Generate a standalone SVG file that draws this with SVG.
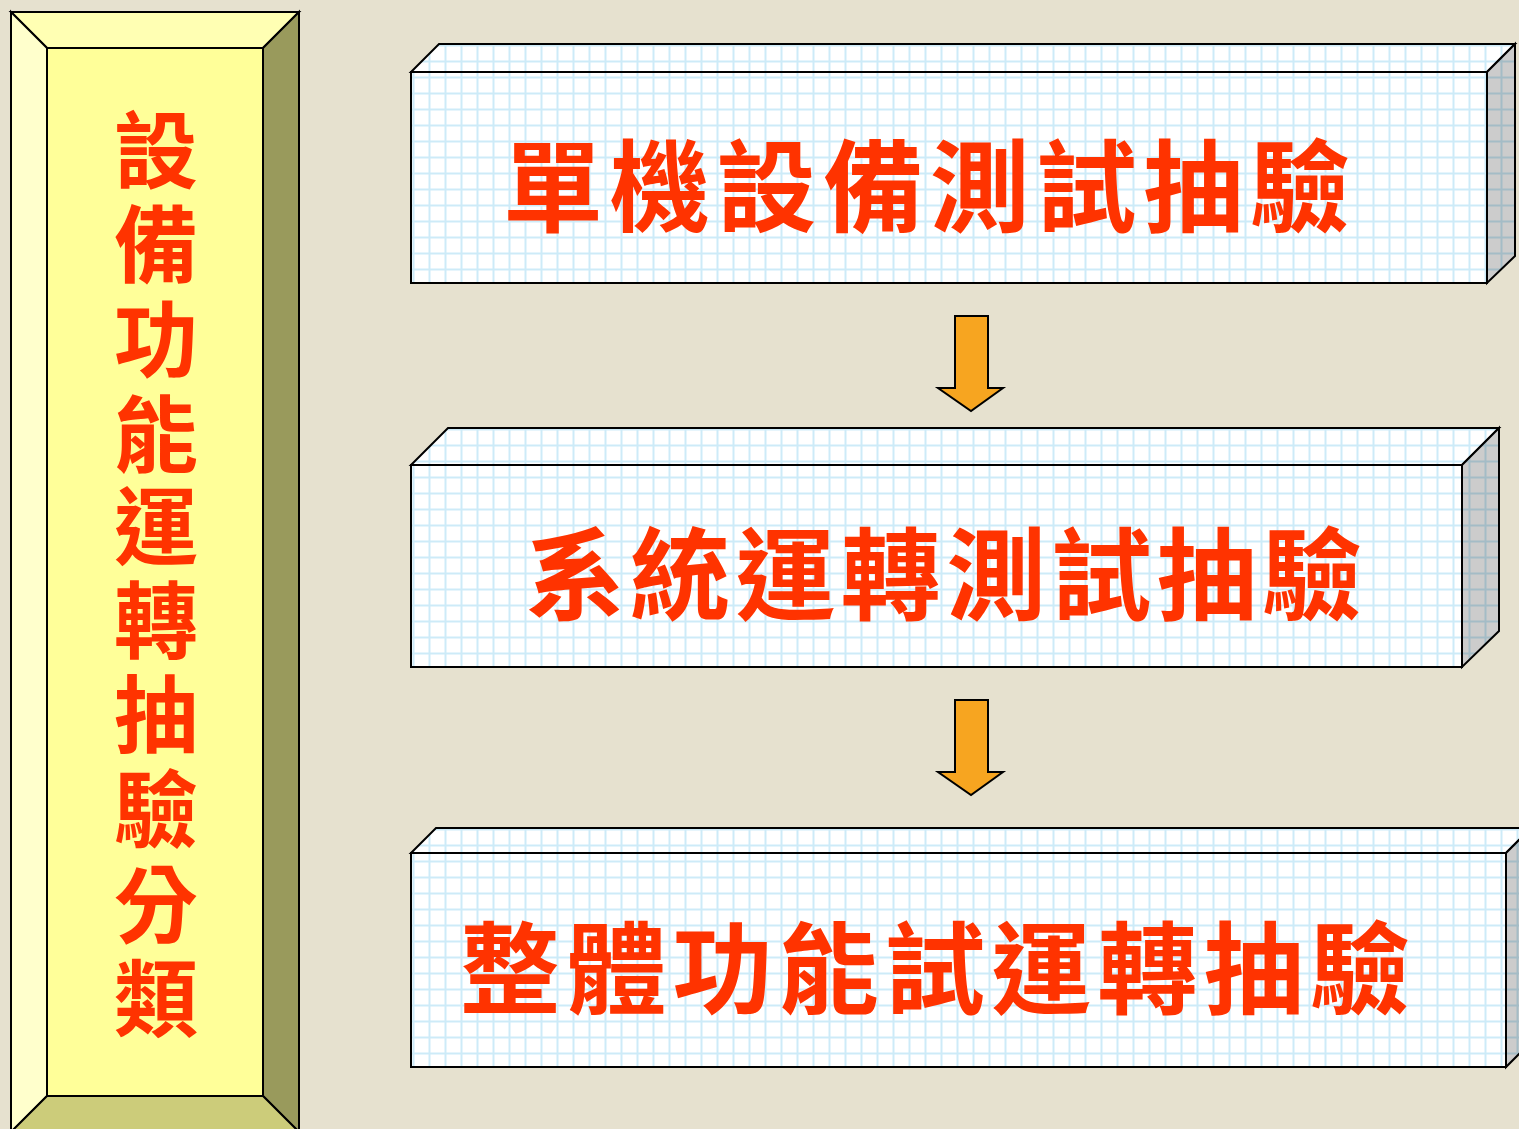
<svg xmlns="http://www.w3.org/2000/svg" width="1519" height="1129" viewBox="0 0 1519 1129">
<style>
.edge{stroke:#000;stroke-width:2;stroke-linejoin:miter}
.t{font-family:"Noto Sans CJK TC","Noto Sans CJK SC",sans-serif;font-weight:bold;fill:#FF3300}
.v{font-size:84px;text-anchor:middle}
.grid{fill:url(#grid)}
.shade{fill:#000;fill-opacity:0.2}
.arrow{fill:#F7A520;stroke:#000;stroke-width:2}
</style>
<defs>
<pattern id="grid" patternUnits="userSpaceOnUse" x="12.5" y="12.5" width="16" height="16">
<rect width="16" height="16" fill="#fff"/>
<rect x="0" y="0" width="2" height="16" fill="#CDEBF8"/>
<rect x="0" y="0" width="16" height="2" fill="#CDEBF8"/>
</pattern>
</defs>
<rect width="1519" height="1129" fill="#E6E1CF"/>

<g id="side-panel">
<polygon points="11,12 299,12 263,48 47,48" fill="#FFFFB3" class="edge"/>
<polygon points="11,12 47,48 47,1096 11,1132" fill="#FFFFCC" class="edge"/>
<polygon points="299,12 299,1132 263,1096 263,48" fill="#999A5C" class="edge"/>
<polygon points="47,1096 263,1096 299,1132 11,1132" fill="#CCCC7A" class="edge"/>
<rect x="47" y="48" width="216" height="1048" fill="#FFFF99" class="edge"/>
<text class="t v" x="156" y="182">設</text>
<text class="t v" x="156" y="276">備</text>
<text class="t v" x="156" y="371">功</text>
<text class="t v" x="156" y="466">能</text>
<text class="t v" x="156" y="558">運</text>
<text class="t v" x="156" y="652">轉</text>
<text class="t v" x="156" y="746">抽</text>
<text class="t v" x="156" y="841">驗</text>
<text class="t v" x="156" y="936">分</text>
<text class="t v" x="156" y="1030">類</text>
</g>

<g id="box1">
<polygon points="411,72 439,44 1515,44 1487,72" class="grid edge"/>
<polygon points="1487,72 1515,44 1515,256 1487,283" class="grid edge"/>
<polygon points="1487,72 1515,44 1515,256 1487,283" class="shade"/>
<rect x="411" y="72" width="1076" height="211" class="grid edge"/>
<text class="t" x="503" y="224" font-size="100" textLength="847" lengthAdjust="spacing">單機設備測試抽驗</text>
</g>

<g id="box2">
<polygon points="411,465 448,428 1499,428 1462,465" class="grid edge"/>
<polygon points="1462,465 1499,428 1499,631 1462,667" class="grid edge"/>
<polygon points="1462,465 1499,428 1499,631 1462,667" class="shade"/>
<rect x="411" y="465" width="1051" height="202" class="grid edge"/>
<text class="t" x="525" y="612" font-size="100" textLength="837" lengthAdjust="spacing">系統運轉測試抽驗</text>
</g>

<g id="box3">
<polygon points="411,853 436,828 1531,828 1506,853" class="grid edge"/>
<polygon points="1506,853 1531,828 1531,1042 1506,1067" class="grid edge"/>
<polygon points="1506,853 1531,828 1531,1042 1506,1067" class="shade"/>
<rect x="411" y="853" width="1095" height="214" class="grid edge"/>
<text class="t" x="460" y="1006" font-size="100" textLength="950" lengthAdjust="spacing">整體功能試運轉抽驗</text>
</g>

<g id="connectors">
<polygon class="arrow" points="955,316 988,316 988,388 1003,388 971,411 938,388 955,388"/>
<polygon class="arrow" points="955,700 988,700 988,772 1003,772 971,795 938,772 955,772"/>
</g>
</svg>
